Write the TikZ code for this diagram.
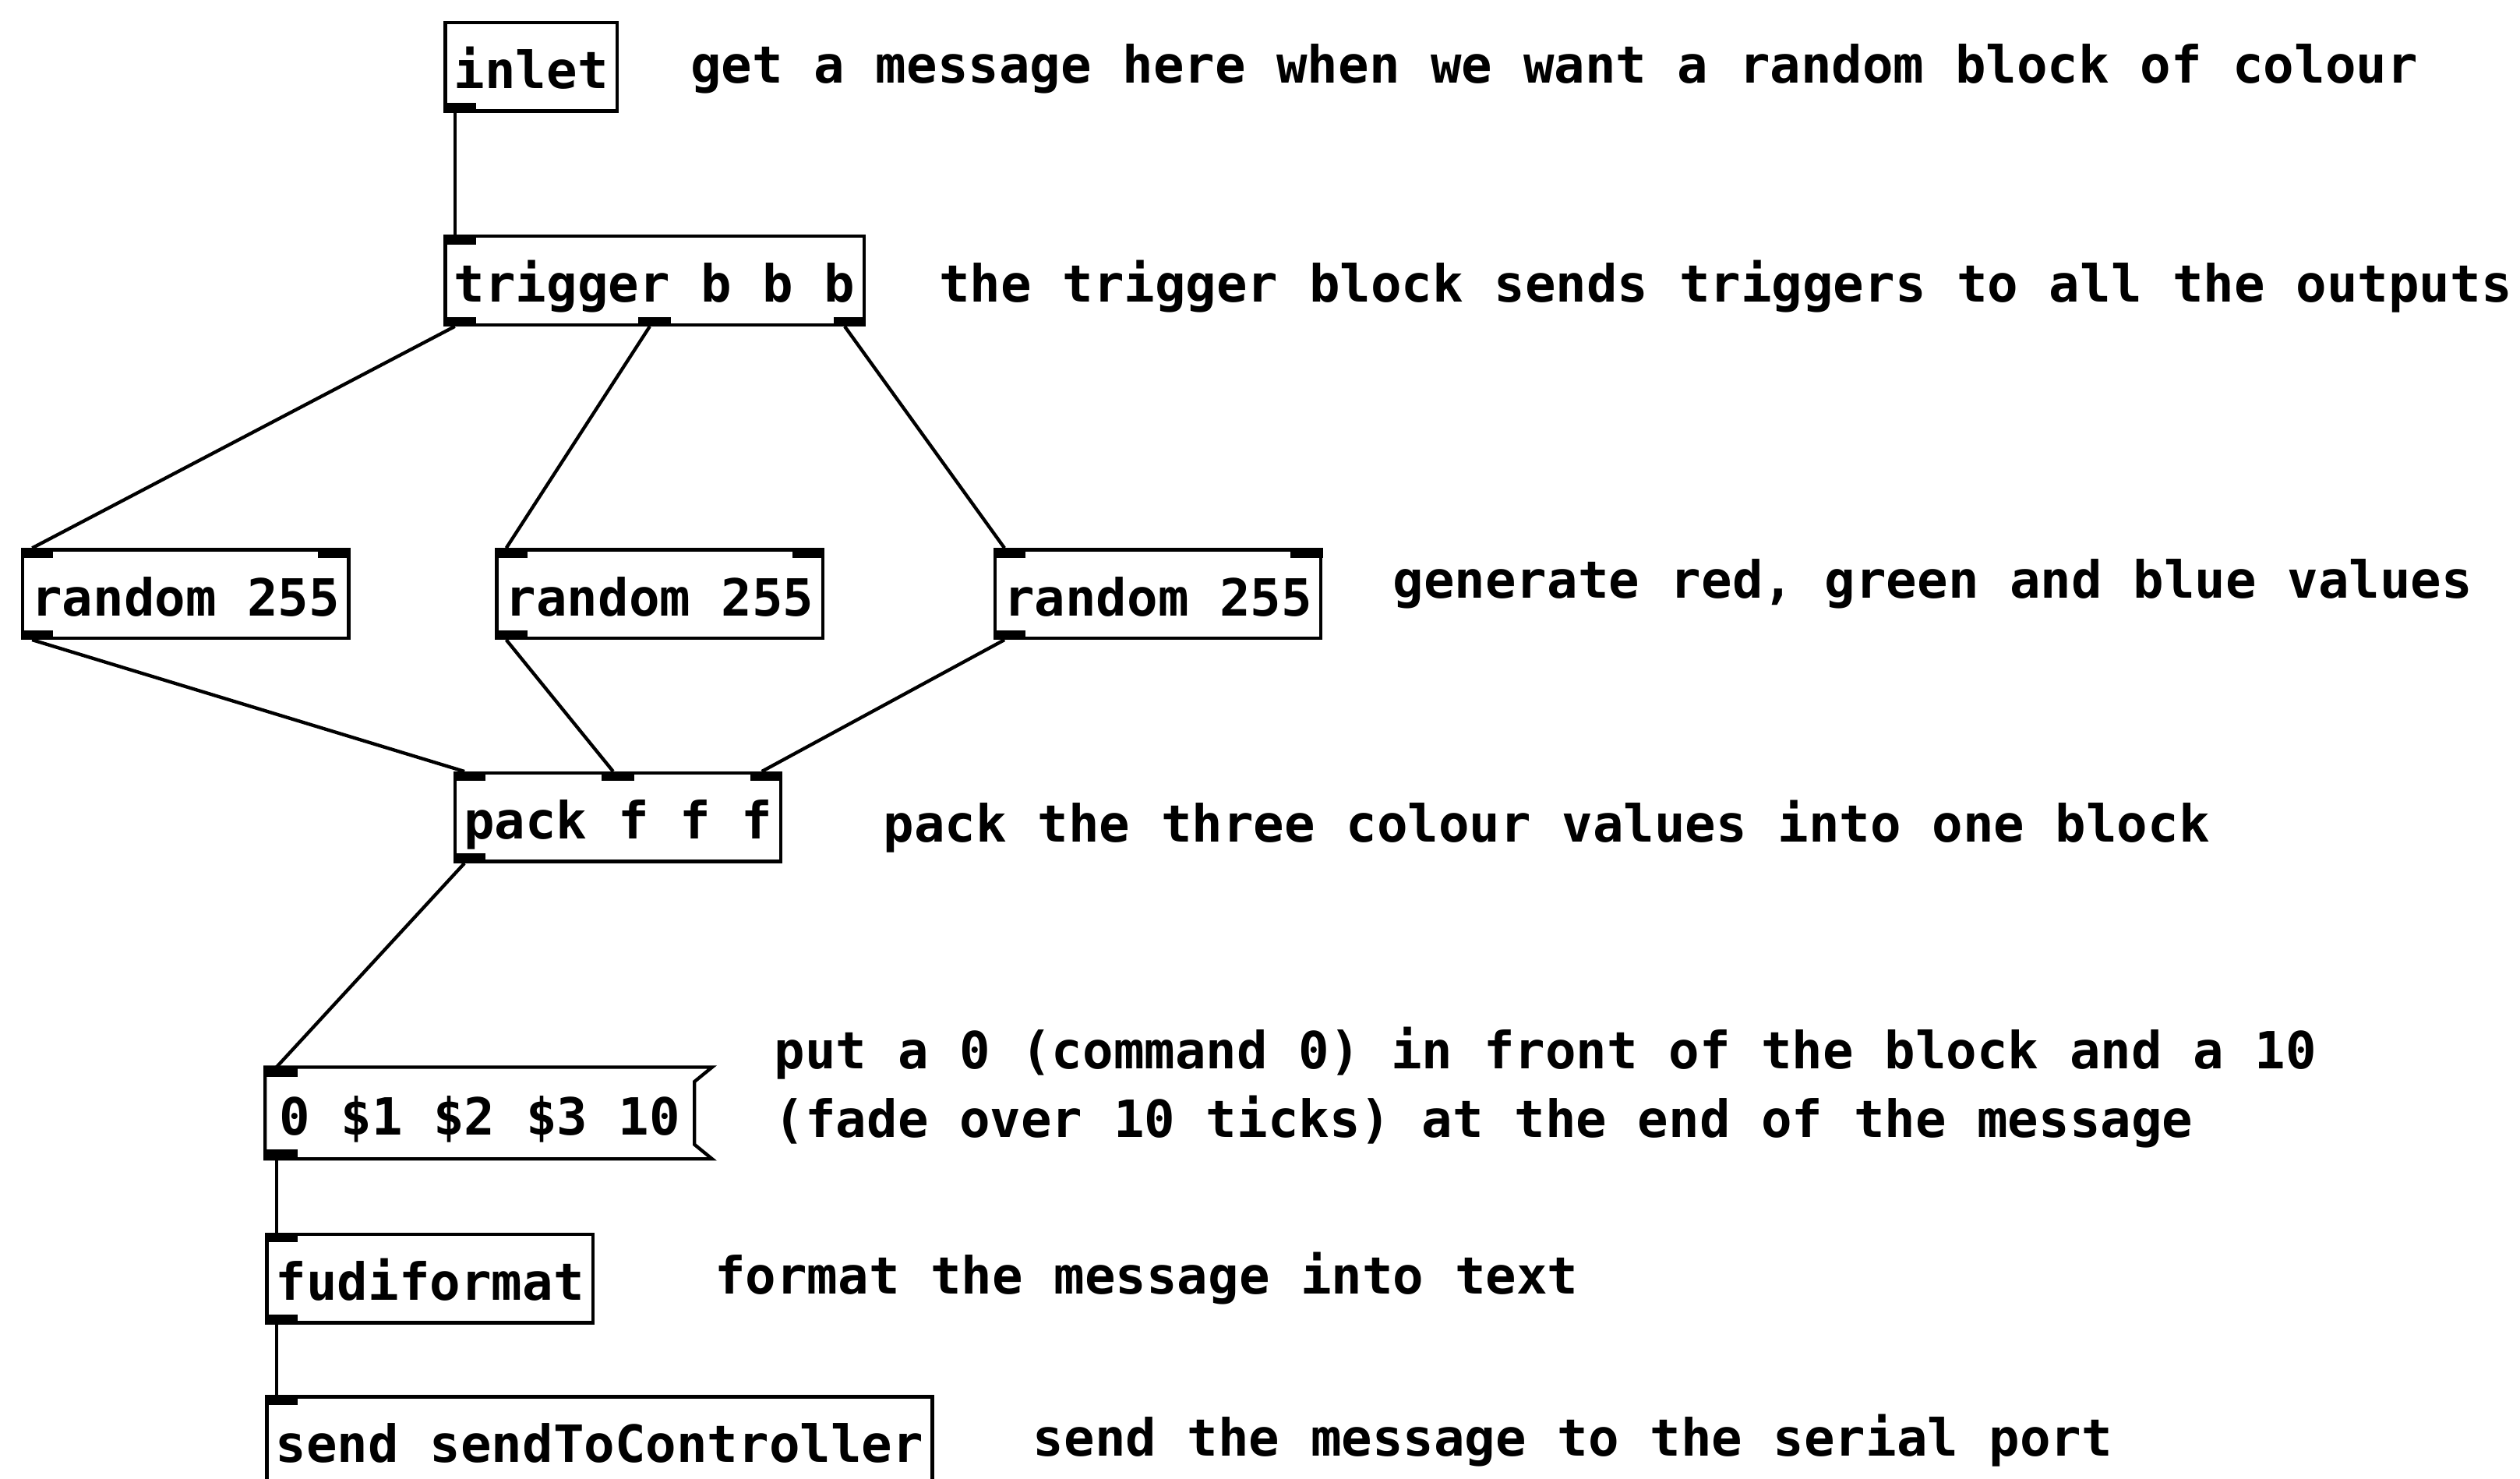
\documentclass[tikz,border=0pt]{standalone}
\usepackage{fontspec}
\setmonofont{DejaVu Sans Mono}
\usetikzlibrary{positioning,calc}

% inlet / outlet tabs: node, place along the edge (0..1), name of the wire end
\newcommand{\pdin}[3]{%
  \coordinate (#3) at ($([xshift=0.7mm]#1.north west)!#2!([xshift=-1.3mm]#1.north east)$);
  \fill ([xshift=-0.7mm]#3) rectangle ++(2mm,-0.6mm);}
\newcommand{\pdout}[3]{%
  \coordinate (#3) at ($([xshift=0.7mm]#1.south west)!#2!([xshift=-1.3mm]#1.south east)$);
  \fill ([xshift=-0.7mm]#3) rectangle ++(2mm,0.6mm);}

\begin{document}
\begin{tikzpicture}[
            x=0.1mm, y=-0.1mm,
            font=\ttfamily\bfseries\fontsize{9.07}{12.2}\selectfont,
            obj/.style={draw, line width=0.6pt, anchor=north west, inner xsep=0.55mm,
                        inner ysep=0pt, minimum height=5.5mm, text height=3.2mm, text depth=0.5mm},
            msg/.style={obj, draw=none, minimum width=26.5mm},
            note/.style={inner sep=0pt},
            wire/.style={line width=0.6pt}
        ]
            \useasboundingbox (0,0) rectangle (1568,920);
            \clip (0,0) rectangle (1568,920);

            % Objects
            \node[obj] (inlet) at (276,13) {inlet};
            \node[obj] (trig) at (276,146) {trigger b b b};
            \node[obj] (rndr) at (13,341) {random 255};
            \node[obj] (rndg) at (308,341) {random 255};
            \node[obj] (rndb) at (618,341) {random 255};
            \node[obj] (pack) at (282,480) {pack f f f};
            \node[msg] (fade) at (165,664) {0 \$1 \$2 \$3 10};
            \node[obj] (fudi) at (165,767) {fudiformat};
            \node[obj] (send) at (165,868) {send sendToController};

            % Message box flag
            \draw[line width=0.6pt] (fade.north west) -- ([xshift=1.1mm]fade.north east)
                -- ([yshift=-0.9mm]fade.north east) -- ([yshift=0.9mm]fade.south east)
                -- ([xshift=1.1mm]fade.south east) -- (fade.south west) -- cycle;

            % Inlets and outlets
            \pdout{inlet}{0}{inlet-o0}
            \pdin{trig}{0}{trig-i0}
            \pdout{trig}{0}{trig-o0}
            \pdout{trig}{0.5}{trig-o1}
            \pdout{trig}{1}{trig-o2}
            \foreach \r in {rndr,rndg,rndb} {
                \pdin{\r}{0}{\r-i0}
                \pdin{\r}{1}{\r-i1}
                \pdout{\r}{0}{\r-o0}
            }
            \pdin{pack}{0}{pack-i0}
            \pdin{pack}{0.5}{pack-i1}
            \pdin{pack}{1}{pack-i2}
            \pdout{pack}{0}{pack-o0}
            \pdin{fade}{0}{fade-i0}
            \pdout{fade}{0}{fade-o0}
            \pdin{fudi}{0}{fudi-i0}
            \pdout{fudi}{0}{fudi-o0}
            \pdin{send}{0}{send-i0}

            % Wires
            \draw[wire] (inlet-o0) -- (trig-i0);
            \draw[wire] (trig-o0) -- (rndr-i0);
            \draw[wire] (trig-o1) -- (rndg-i0);
            \draw[wire] (trig-o2) -- (rndb-i0);
            \draw[wire] (rndr-o0) -- (pack-i0);
            \draw[wire] (rndg-o0) -- (pack-i1);
            \draw[wire] (rndb-o0) -- (pack-i2);
            \draw[wire] (pack-o0) -- (fade-i0);
            \draw[wire] (fade-o0) -- (fudi-i0);
            \draw[wire] (fudi-o0) -- (send-i0);

            % Comments
            \node[note, base right=4.4mm of inlet, yshift=0.35mm] (c-inlet) {get a message here when we want a random block of colour};
            \node[note, base right=4.5mm of trig] (c-trig) {the trigger block sends triggers to all the outputs};
            \node[note, base right=4.3mm of rndb, yshift=1.1mm] (c-rnd) {generate red, green and blue values};
            \node[note, base right=6.2mm of pack, yshift=-0.2mm] (c-pack) {pack the three colour values into one block};
            \node[note, right=4.9mm of fade.east, yshift=1.6mm, align=left] (c-fade) {put a 0 (command 0) in front of the block and a 10\\(fade over 10 ticks) at the end of the message};
            \node[note, base right=7.4mm of fudi, yshift=0.4mm] (c-fudi) {format the message into text};
            \node[note, base right=6.1mm of send, yshift=0.4mm] (c-send) {send the message to the serial port};
        \end{tikzpicture}
\end{document}
